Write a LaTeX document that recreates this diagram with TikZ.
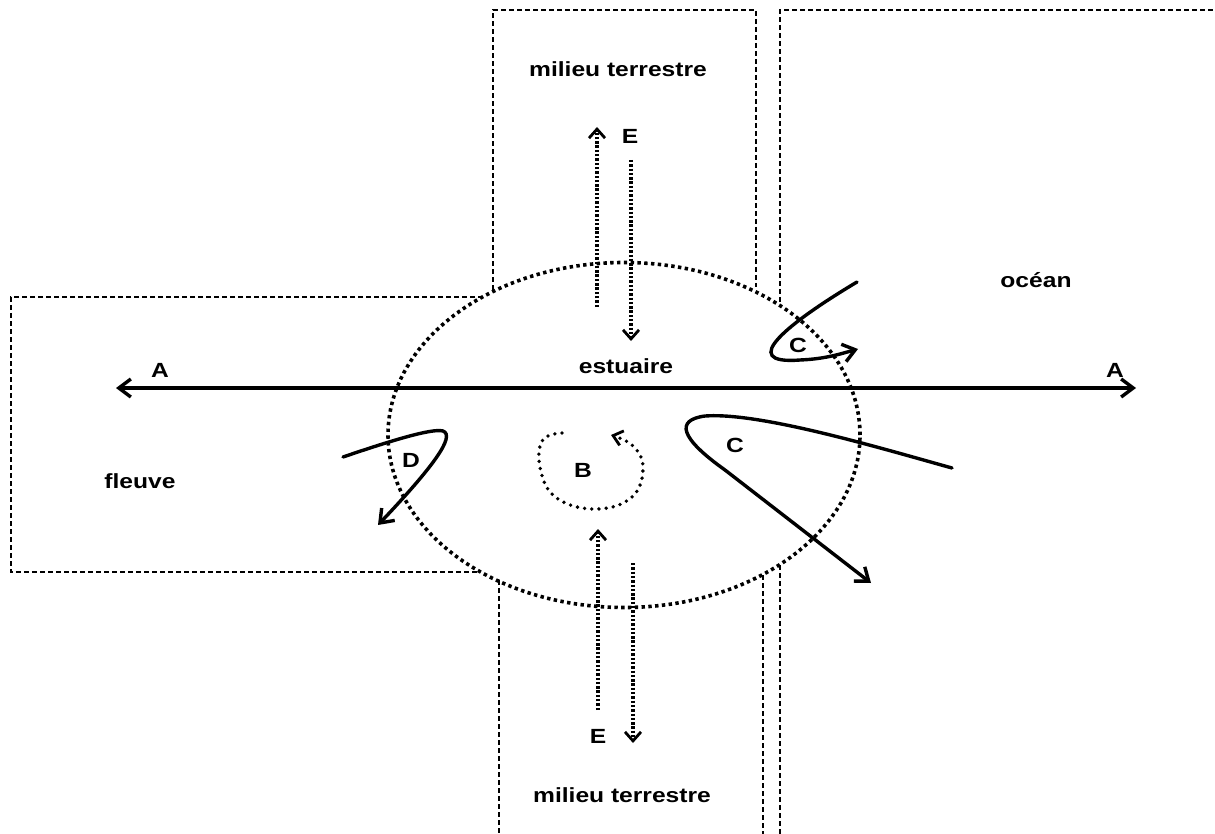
\documentclass[tikz,border=0pt]{standalone}
\usepackage{fontspec}
\usepackage{graphicx}
\setmainfont{Liberation Sans}
\usetikzlibrary{arrows.meta}
\newcommand{\lbl}[1]{\scalebox{1.2}[1]{\bfseries #1}}
\begin{document}
\begin{tikzpicture}[x=1pt,y=-1pt,
  boxline/.style={line width=1.3pt,dash pattern=on 5pt off 3pt},
  estdots/.style={line width=3.6pt,dash pattern=on 3.4pt off 3.4pt},
  edots/.style={line width=3.2pt,dash pattern=on 2.4pt off 1.9pt,
    -{Straight Barb[length=9pt,width=16pt,line width=2.8pt]}},
  bdots/.style={line width=3.8pt,line cap=round,dash pattern=on 0pt off 7.2pt,
    -{Straight Barb[length=9pt,width=15pt,line width=2.8pt]}},
  flux/.style={line width=3.4pt,line cap=round,
    -{Straight Barb[length=12pt,width=18pt,line width=3.4pt]}},
  lab/.style={font=\fontsize{20.5}{24}\selectfont,inner sep=0pt}]
\useasboundingbox (0,0) rectangle (1215,834);

% zones (dashed boxes)
\draw[boxline] (493,290) -- (493,10) -- (756,10) -- (756,287);
\draw[boxline] (780,302) -- (780,10) -- (1215,10);
\draw[boxline] (483,297) -- (11,297) -- (11,572) -- (477,572);
\draw[boxline] (499,580) -- (499,834);
\draw[boxline] (763,575) -- (763,834);
\draw[boxline] (780,565) -- (780,834);

% estuary
\coordinate (est) at (624,435);
\draw[estdots] (est) ellipse [x radius=236pt, y radius=172.5pt];

% labels
\node[lab] (mtop) at (618,69) {\lbl{milieu terrestre}};
\node[lab] (mbot) at (622,795) {\lbl{milieu terrestre}};
\node[lab] (ocean) at (1036,280) {\lbl{océan}};
\node[lab] (fleuve) at (140,481) {\lbl{fleuve}};
\node[lab] (estuaire) at (626,366) {\lbl{estuaire}};
\node[lab] (aL) at (160,370) {\lbl{A}};
\node[lab] (aR) at (1115,370) {\lbl{A}};
\node[lab] (eT) at (630,136) {\lbl{E}};
\node[lab] (eB) at (598,736) {\lbl{E}};
\node[lab] (c1) at (798,345) {\lbl{C}};
\node[lab] (c2) at (735,445) {\lbl{C}};
\node[lab] (dL) at (411,460) {\lbl{D}};
\node[lab] (bL) at (583,470) {\lbl{B}};

% A : horizontal exchange
\coordinate (aW) at (116,388);
\coordinate (aE) at (1136,388);
\draw[line width=3.4pt,{Straight Barb[length=12pt,width=18pt,line width=3.4pt]}-{Straight Barb[length=12pt,width=18pt,line width=3.4pt]}] (aW) -- (aE);

% E : exchanges with land
\coordinate (e1s) at (597,307); \coordinate (e1t) at (597,127);
\coordinate (e2s) at (631,160); \coordinate (e2t) at (631,341);
\coordinate (e3s) at (598,710); \coordinate (e3t) at (598,529);
\coordinate (e4s) at (633,563); \coordinate (e4t) at (633,743);
\draw[edots] (e1s) -- (e1t);
\draw[edots] (e2s) -- (e2t);
\draw[edots] (e3s) -- (e3t);
\draw[edots] (e4s) -- (e4t);

% C : upper loop
\coordinate (c1s) at (857,282);
\coordinate (c1t) at (858,349);
\draw[flux] (c1s) .. controls (790,322) and (735,365) .. (800,360)
  .. controls (825,359) and (840,354) .. (c1t);

% C : lower loop
\coordinate (c2s) at (952,468);
\coordinate (c2t) at (871,583);
\draw[flux] (c2s) .. controls (880,448) and (760,412) .. (705,416)
  .. controls (675,420) and (680,438) .. (725,470) -- (c2t);

% D loop
\coordinate (ds) at (343,457);
\coordinate (dt) at (378,525);
\draw[flux] (ds) .. controls (390,441) and (432,428) .. (443,431)
  .. controls (456,436) and (432,468) .. (dt);

% B : internal circulation
\draw[bdots] plot[smooth,tension=0.7] coordinates {(562,433) (542,441) (541,472) (558,499) (597,509) (632,497) (643,468) (633,446) (611,435)};
\end{tikzpicture}
\end{document}
